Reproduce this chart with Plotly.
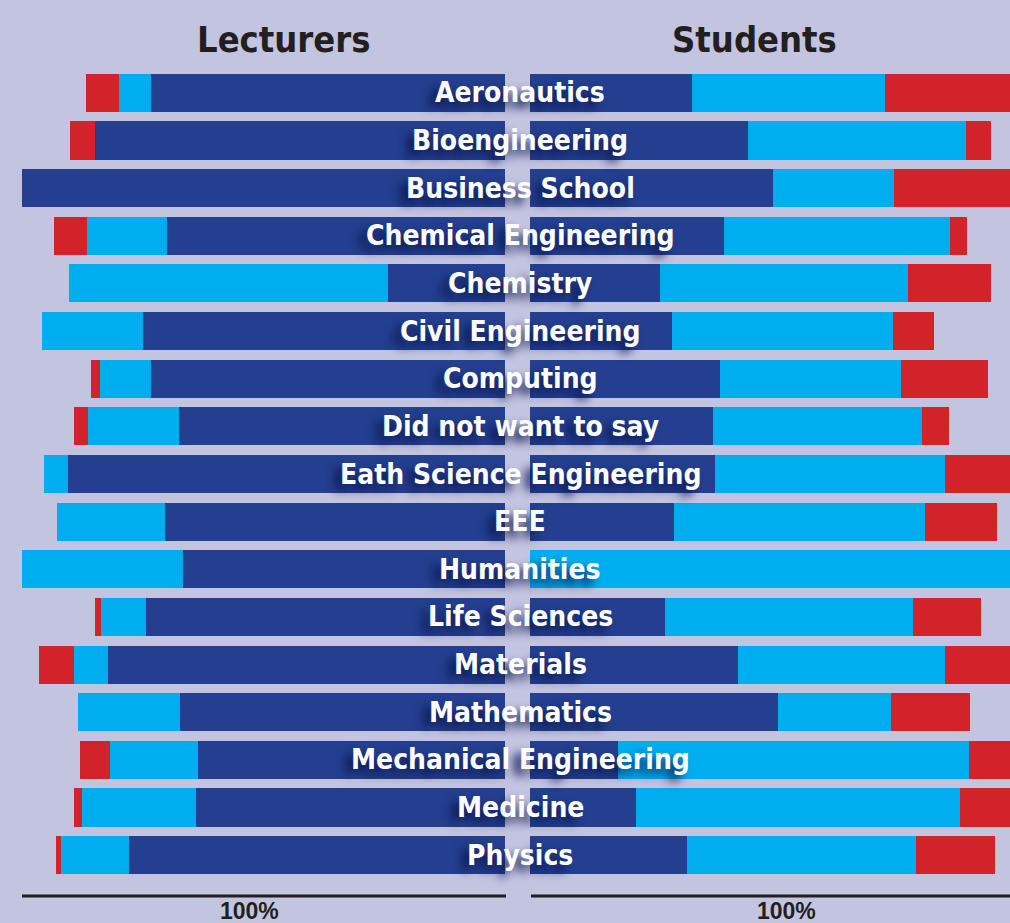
import plotly.graph_objects as go

# Survey breakdown by department, percent of respondents
categories = [
    "Aeronautics", "Bioengineering", "Business School", "Chemical Engineering",
    "Chemistry", "Civil Engineering", "Computing", "Did not want to say",
    "Eath Science Engineering", "EEE", "Humanities", "Life Sciences",
    "Materials", "Mathematics", "Mechanical Engineering", "Medicine", "Physics",
]

lect_dark = [73.3, 84.9, 100.0, 70.0, 24.2, 74.9, 73.3, 67.5, 90.5, 70.4, 66.7, 74.3, 82.2, 67.3, 63.6, 64.0, 77.8]
lect_light = [6.6, 0.0, 0.0, 16.6, 66.0, 20.9, 10.6, 18.8, 5.0, 22.4, 33.3, 9.3, 7.0, 21.1, 18.2, 23.6, 14.1]
lect_red = [6.8, 5.2, 0.0, 6.8, 0.0, 0.0, 1.9, 2.9, 0.0, 0.0, 0.0, 1.2, 7.2, 0.0, 6.2, 1.7, 1.0]

stud_dark = [33.5, 45.1, 50.3, 40.2, 26.9, 29.4, 39.3, 37.9, 38.3, 29.8, 0.0, 28.0, 43.1, 51.3, 18.2, 21.9, 32.5]
stud_light = [40.0, 45.1, 25.1, 46.8, 51.3, 45.8, 37.5, 43.3, 47.6, 52.0, 100.0, 51.3, 42.9, 23.4, 72.7, 67.1, 47.4]
stud_red = [26.5, 5.2, 24.6, 3.5, 17.2, 8.5, 18.0, 5.6, 14.1, 14.9, 0.0, 14.1, 14.0, 16.4, 9.1, 11.0, 16.4]

panel_titles = ["Lecturers", "Students"]
axis_label = "100%"

DARK = "#243f8f"
LIGHT = "#00aeef"
RED = "#d2232a"
BG = "#c3c4e0"
INK = "#231f20"
FONT = "Liberation Sans Narrow, DejaVu Sans Condensed, Arial Narrow, sans-serif"

W, H = 1010, 923
L_PX, T_PX, B_PX = 0, 69, 44

fig = go.Figure()

for vals, color in [(lect_dark, DARK), (lect_light, LIGHT), (lect_red, RED)]:
    fig.add_trace(go.Bar(
        y=categories, x=vals, orientation="h", xaxis="x", yaxis="y",
        marker=dict(color=color, line=dict(width=0)),
        hoverinfo="skip", showlegend=False,
    ))

for vals, color in [(stud_dark, DARK), (stud_light, LIGHT), (stud_red, RED)]:
    fig.add_trace(go.Bar(
        y=categories, x=vals, orientation="h", xaxis="x2", yaxis="y",
        marker=dict(color=color, line=dict(width=0)),
        hoverinfo="skip", showlegend=False,
    ))

# department names sit in the gap between the two panels
for cat in categories:
    fig.add_annotation(
        x=520 / W, xref="paper", y=cat, yref="y",
        text=cat, showarrow=False, xanchor="center", yanchor="middle",
        font=dict(family=FONT, size=28, color="white", weight="bold",
                  shadow="-7px 6px 10px #0b164f"),
    )

plot_h = H - T_PX - B_PX

def paper_y(px):
    return (H - B_PX - px) / plot_h

fig.add_annotation(x=284 / W, xref="paper", y=paper_y(40), yref="paper",
                   text=panel_titles[0], showarrow=False, xanchor="center", yanchor="middle",
                   font=dict(family=FONT, size=36, color=INK, weight="bold"))
fig.add_annotation(x=754 / W, xref="paper", y=paper_y(40), yref="paper",
                   text=panel_titles[1], showarrow=False, xanchor="center", yanchor="middle",
                   font=dict(family=FONT, size=36, color=INK, weight="bold"))

for cx in (249, 786):
    fig.add_annotation(x=cx / W, xref="paper", y=paper_y(911), yref="paper",
                       text=axis_label, showarrow=False, xanchor="center", yanchor="middle",
                       font=dict(family="Liberation Sans, Arial, sans-serif", size=23, color=INK, weight="bold"))

# baseline rules under each panel
for x0, x1 in ((22, 506), (531, 1010)):
    fig.add_shape(type="line", xref="paper", yref="paper",
                  x0=x0 / W, x1=x1 / W, y0=paper_y(896), y1=paper_y(896),
                  line=dict(color=INK, width=3))

fig.update_layout(
    width=W, height=H,
    margin=dict(l=L_PX, r=0, t=T_PX, b=B_PX),
    paper_bgcolor=BG, plot_bgcolor=BG,
    barmode="stack", bargap=0.2,
    showlegend=False,
    xaxis=dict(domain=[22 / W, 505 / W], range=[100, 0], visible=False, fixedrange=True),
    xaxis2=dict(domain=[530 / W, 1.0], range=[0, 100 * 480 / 483], visible=False, fixedrange=True),
    yaxis=dict(categoryorder="array", categoryarray=categories, autorange="reversed",
               visible=False, fixedrange=True),
)

# drop the page's default body margin so the figure sits at the window origin
fig.write_html("out.html", config={"displayModeBar": False},
               post_script="document.body.style.margin='0';document.body.style.overflow='hidden';")
